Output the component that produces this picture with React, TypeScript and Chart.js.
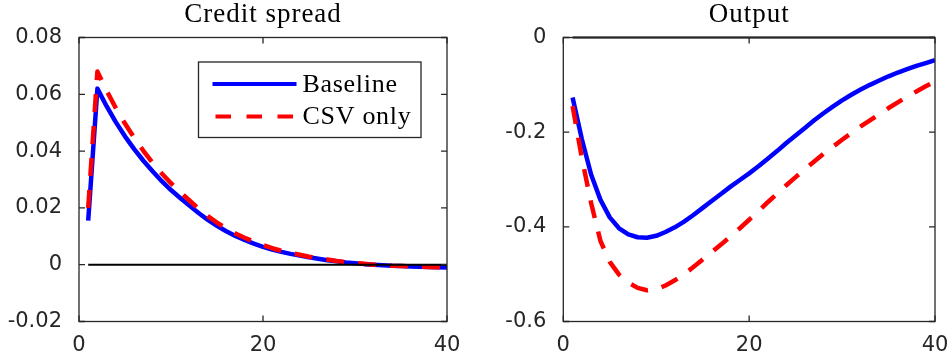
import React, { useEffect, useRef } from "react";
import { Chart, registerables } from "chart.js";

Chart.register(...registerables);

// ---------- data ----------
const periods = [
  1, 2, 3, 4, 5, 6, 7, 8, 9, 10, 11, 12, 13, 14, 15, 16, 17, 18, 19, 20,
  21, 22, 23, 24, 25, 26, 27, 28, 29, 30, 31, 32, 33, 34, 35, 36, 37, 38, 39, 40,
];

const spreadBaseline = [
  0.0155, 0.062, 0.0558, 0.0502, 0.0452, 0.0407, 0.0366, 0.0329, 0.0294, 0.0263,
  0.0235, 0.0208, 0.0182, 0.0158, 0.0137, 0.0118, 0.0101, 0.0087, 0.0074, 0.0063,
  0.0053, 0.0045, 0.0038, 0.0032, 0.0026, 0.0021, 0.0016, 0.0012, 0.0008, 0.0005,
  0.0002, 0.0, -0.0002, -0.0004, -0.0005, -0.0006, -0.0007, -0.0008, -0.0009, -0.001,
];

const spreadCsv = [
  0.02, 0.068, 0.0613, 0.0552, 0.0497, 0.0447, 0.0401, 0.0359, 0.0321, 0.0287,
  0.0256, 0.0226, 0.0197, 0.0171, 0.0148, 0.0128, 0.011, 0.0095, 0.0081, 0.0069,
  0.0058, 0.0049, 0.0041, 0.0035, 0.0028, 0.0023, 0.0018, 0.0013, 0.0009, 0.0006,
  0.0003, 0.0, -0.0002, -0.0004, -0.0005, -0.0006, -0.0007, -0.0008, -0.0009, -0.001,
];

const outputBaseline = [
  -0.127, -0.215, -0.29, -0.343, -0.38, -0.403, -0.416, -0.422, -0.423, -0.419,
  -0.411, -0.401, -0.389, -0.375, -0.36, -0.345, -0.33, -0.315, -0.301, -0.287,
  -0.272, -0.256, -0.24, -0.223, -0.207, -0.191, -0.175, -0.16, -0.146, -0.133,
  -0.121, -0.11, -0.1, -0.091, -0.082, -0.074, -0.067, -0.06, -0.054, -0.048,
];

const outputCsv = [
  -0.145, -0.255, -0.35, -0.43, -0.474, -0.501, -0.518, -0.529, -0.534, -0.532,
  -0.524, -0.513, -0.5, -0.485, -0.469, -0.453, -0.437, -0.42, -0.403, -0.385,
  -0.367, -0.348, -0.33, -0.312, -0.295, -0.278, -0.262, -0.246, -0.231, -0.216,
  -0.202, -0.188, -0.175, -0.162, -0.149, -0.137, -0.125, -0.114, -0.103, -0.093,
];

const zeroLine = [
  0, 0, 0, 0, 0, 0, 0, 0, 0, 0, 0, 0, 0, 0, 0, 0, 0, 0, 0, 0,
  0, 0, 0, 0, 0, 0, 0, 0, 0, 0, 0, 0, 0, 0, 0, 0, 0, 0, 0, 0,
];

const xTicks = [0, 20, 40];
const spreadTicks = [-0.02, 0, 0.02, 0.04, 0.06, 0.08];
const outputTicks = [-0.6, -0.4, -0.2, 0];

const seriesNames = ["Baseline", "CSV only"];
const panelTitles = ["Credit spread", "Output"];

// ---------- styling ----------
const AXIS_COLOR = "#262626";
const TICK_FONT = { family: "'DejaVu Sans', sans-serif", size: 21 };
const SERIF = "'Liberation Serif', 'DejaVu Serif', serif";
const LINE_W = 4.5;

const framePlugin = {
  id: "frame",
  afterDraw(chart: any, _args: any, opts: any) {
    const { ctx, chartArea: a, scales } = chart;
    const xs = scales.x;
    const ys = scales.y;
    ctx.save();
    // box
    ctx.strokeStyle = AXIS_COLOR;
    ctx.lineWidth = 1.3;
    ctx.strokeRect(a.left, a.top, a.right - a.left, a.bottom - a.top);
    // inward ticks on all four sides
    const L = 6;
    ctx.beginPath();
    xs.ticks.forEach((t: any) => {
      const px = xs.getPixelForValue(t.value);
      ctx.moveTo(px, a.bottom);
      ctx.lineTo(px, a.bottom - L);
      ctx.moveTo(px, a.top);
      ctx.lineTo(px, a.top + L);
    });
    ys.ticks.forEach((t: any) => {
      const py = ys.getPixelForValue(t.value);
      ctx.moveTo(a.left, py);
      ctx.lineTo(a.left + L, py);
      ctx.moveTo(a.right, py);
      ctx.lineTo(a.right - L, py);
    });
    ctx.stroke();

    // title
    ctx.save();
    ctx.fillStyle = "#000";
    ctx.font = `27px ${SERIF}`;
    (ctx as any).letterSpacing = "1px";
    ctx.textAlign = "center";
    ctx.textBaseline = "middle";
    ctx.fillText(opts.title, (a.left + a.right) / 2, 15);
    ctx.restore();

    // legend
    if (opts.legend) {
      const bx = 198.5, by = 62, bw = 222.5, bh = 75.5;
      ctx.fillStyle = "#fff";
      ctx.fillRect(bx, by, bw, bh);
      ctx.strokeStyle = AXIS_COLOR;
      ctx.lineWidth = 1.3;
      ctx.strokeRect(bx, by, bw, bh);
      const rows = [84, 116.5];
      const entries = chart.data.datasets.filter((d: any) => d.inLegend);
      entries.sort((p: any, q: any) => p.legendIndex - q.legendIndex);
      entries.forEach((d: any, i: number) => {
        const yy = rows[i];
        ctx.save();
        ctx.strokeStyle = d.borderColor;
        ctx.lineWidth = 4;
        ctx.beginPath();
        if (d.borderDash) {
          ctx.setLineDash([15.5, 15.5]);
          ctx.moveTo(215.5, yy);
          ctx.lineTo(295, yy);
        } else {
          ctx.moveTo(212.5, yy);
          ctx.lineTo(296.5, yy);
        }
        ctx.stroke();
        ctx.restore();
        ctx.save();
        ctx.fillStyle = "#000";
        ctx.font = `26px ${SERIF}`;
        (ctx as any).letterSpacing = "0.7px";
        ctx.textAlign = "left";
        ctx.textBaseline = "middle";
        ctx.fillText(d.label, 302.5, yy + 1);
        ctx.restore();
      });
    }
    ctx.restore();
  },
};

function pts(values: number[]) {
  return periods.map((p, i) => ({ x: p, y: values[i] }));
}

function fmt(decimals: number) {
  return (v: any) => String(Number(Number(v).toFixed(decimals)));
}

function buildConfig(opts: {
  base: number[];
  csv: number[];
  yTicks: number[];
  yDecimals: number;
  yWidth: number;
  padRight: number;
  title: string;
  legend: boolean;
}): any {
  const yMin = opts.yTicks[0];
  const yMax = opts.yTicks[opts.yTicks.length - 1];
  return {
    type: "line",
    data: {
      datasets: [
        {
          label: "zero",
          data: pts(zeroLine),
          borderColor: "#000000",
          borderWidth: 2,
          order: 0,
          clip: false,
          inLegend: false,
        },
        {
          label: seriesNames[1],
          data: pts(opts.csv),
          borderColor: "#FF0000",
          borderWidth: LINE_W,
          borderDash: [18, 14],
          order: 1,
          inLegend: true,
          legendIndex: 1,
        },
        {
          label: seriesNames[0],
          data: pts(opts.base),
          borderColor: "#0000FF",
          borderWidth: LINE_W,
          order: 2,
          inLegend: true,
          legendIndex: 0,
        },
      ],
    },
    options: {
      responsive: false,
      animation: false,
      events: [],
      layout: { padding: { top: 37.5, right: opts.padRight, left: 0, bottom: 0 } },
      elements: {
        point: { radius: 0 },
        line: { tension: 0, borderJoinStyle: "round", fill: false },
      },
      plugins: {
        legend: { display: false },
        tooltip: { enabled: false },
        title: { display: false },
        frame: { title: opts.title, legend: opts.legend },
      },
      scales: {
        x: {
          type: "linear",
          min: 0,
          max: 40,
          afterBuildTicks: (s: any) => {
            s.ticks = xTicks.map((v) => ({ value: v }));
          },
          afterFit: (s: any) => {
            s.height = 38.5;
          },
          grid: { display: false, drawTicks: true, tickLength: 11 },
          border: { display: false },
          ticks: {
            font: TICK_FONT,
            color: AXIS_COLOR,
            padding: 0,
            maxRotation: 0,
            autoSkip: false,
            callback: fmt(0),
          },
        },
        y: {
          type: "linear",
          min: yMin,
          max: yMax,
          afterBuildTicks: (s: any) => {
            s.ticks = opts.yTicks.map((v) => ({ value: v }));
          },
          afterFit: (s: any) => {
            s.width = opts.yWidth;
          },
          grid: { display: false, drawTicks: true, tickLength: 17 },
          border: { display: false },
          ticks: {
            font: TICK_FONT,
            color: AXIS_COLOR,
            padding: 0,
            autoSkip: false,
            callback: fmt(opts.yDecimals),
          },
        },
      },
    },
    plugins: [framePlugin],
  };
}

export default function App() {
  const leftRef = useRef<HTMLCanvasElement>(null);
  const rightRef = useRef<HTMLCanvasElement>(null);

  useEffect(() => {
    const charts: Chart[] = [];
    if (leftRef.current) {
      charts.push(
        new Chart(
          leftRef.current,
          buildConfig({
            base: spreadBaseline,
            csv: spreadCsv,
            yTicks: spreadTicks,
            yDecimals: 2,
            yWidth: 79,
            padRight: 23,
            title: panelTitles[0],
            legend: true,
          })
        )
      );
    }
    if (rightRef.current) {
      charts.push(
        new Chart(
          rightRef.current,
          buildConfig({
            base: outputBaseline,
            csv: outputCsv,
            yTicks: outputTicks,
            yDecimals: 1,
            yWidth: 83.3,
            padRight: 14,
            title: panelTitles[1],
            legend: false,
          })
        )
      );
    }
    return () => charts.forEach((c) => c.destroy());
  }, []);

  return (
    <div
      style={{
        position: "absolute",
        left: 0,
        top: 0,
        width: 949,
        height: 360,
        background: "#fff",
      }}
    >
      <canvas
        ref={leftRef}
        width={470}
        height={360}
        style={{ position: "absolute", left: 0, top: 0, width: 470, height: 360 }}
      />
      <canvas
        ref={rightRef}
        width={469}
        height={360}
        style={{ position: "absolute", left: 480, top: 0, width: 469, height: 360 }}
      />
    </div>
  );
}
